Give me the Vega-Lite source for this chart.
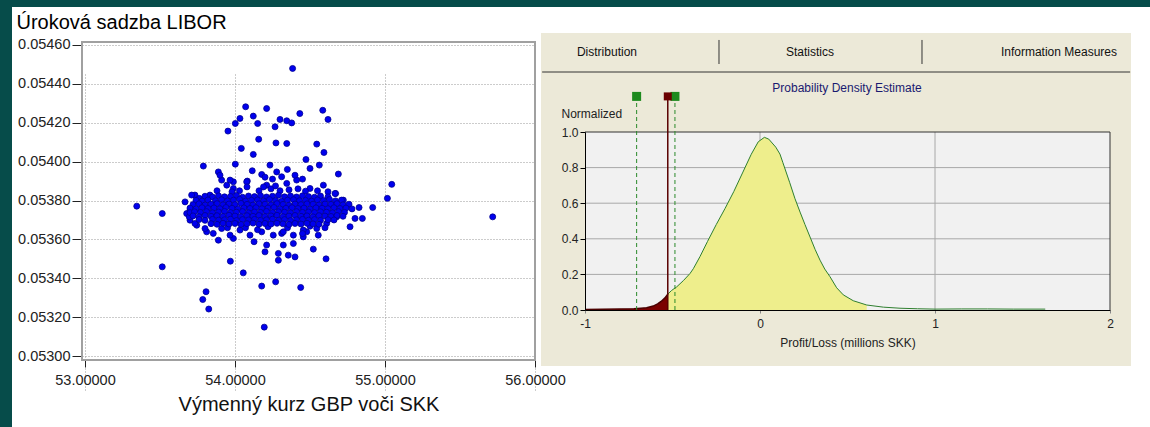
{
"$schema": "https://vega.github.io/schema/vega-lite/v6.json",
"width": 1138, "height": 420,
"padding": {"left": 12, "top": 7, "right": 0, "bottom": 0},
"autosize": {"type": "none"},
"background": "#064c4a",
"config": {"view": {"fill": "white", "stroke": null}, "font": "Liberation Sans"},
"datasets": {
"scatter": [
{"kurz":53.345,"libor":0.053771},{"kurz":53.515,"libor":0.053733},{"kurz":53.515,"libor":0.053459},{"kurz":53.785,"libor":0.053291},{"kurz":53.807,"libor":0.053331},{"kurz":53.825,"libor":0.053242},{"kurz":53.789,"libor":0.053977},{"kurz":53.667,"libor":0.053793},{"kurz":53.969,"libor":0.053488},{"kurz":54.055,"libor":0.053428},{"kurz":54.178,"libor":0.05336},{"kurz":54.271,"libor":0.053382},{"kurz":54.195,"libor":0.053149},{"kurz":53.953,"libor":0.054157},{"kurz":54.002,"libor":0.054196},{"kurz":54.033,"libor":0.054222},{"kurz":54.071,"libor":0.054282},{"kurz":54.122,"libor":0.054234},{"kurz":54.151,"libor":0.054196},{"kurz":54.211,"libor":0.054273},{"kurz":54.158,"libor":0.054115},{"kurz":54.042,"libor":0.054068},{"kurz":54.122,"libor":0.054037},{"kurz":54.273,"libor":0.054096},{"kurz":54.345,"libor":0.054093},{"kurz":54.267,"libor":0.054179},{"kurz":54.3,"libor":0.054217},{"kurz":54.345,"libor":0.05421},{"kurz":54.378,"libor":0.054199},{"kurz":54.432,"libor":0.054247},{"kurz":54.002,"libor":0.053987},{"kurz":54.082,"libor":0.0539},{"kurz":54.115,"libor":0.053953},{"kurz":53.889,"libor":0.053947},{"kurz":53.911,"libor":0.053905},{"kurz":53.945,"libor":0.053879},{"kurz":53.989,"libor":0.053896},{"kurz":53.989,"libor":0.053862},{"kurz":53.889,"libor":0.053596},{"kurz":53.989,"libor":0.053605},{"kurz":54.127,"libor":0.053588},{"kurz":54.2,"libor":0.053536},{"kurz":54.289,"libor":0.053528},{"kurz":54.289,"libor":0.053493},{"kurz":54.322,"libor":0.053571},{"kurz":54.355,"libor":0.053519},{"kurz":54.389,"libor":0.053579},{"kurz":54.4,"libor":0.05351},{"kurz":53.855,"libor":0.053631},{"kurz":53.811,"libor":0.053639},{"kurz":53.745,"libor":0.053673},{"kurz":53.7,"libor":0.053699},{"kurz":53.678,"libor":0.053733},{"kurz":53.733,"libor":0.053828},{"kurz":53.762,"libor":0.053811},{"kurz":54.384,"libor":0.054479},{"kurz":54.585,"libor":0.054264},{"kurz":54.62,"libor":0.054217},{"kurz":54.545,"libor":0.05409},{"kurz":54.593,"libor":0.054047},{"kurz":54.473,"libor":0.054011},{"kurz":54.562,"libor":0.053982},{"kurz":54.5,"libor":0.053965},{"kurz":54.689,"libor":0.053936},{"kurz":54.178,"libor":0.053934},{"kurz":54.233,"libor":0.053982},{"kurz":54.349,"libor":0.05396},{"kurz":55.045,"libor":0.053883},{"kurz":55.016,"libor":0.053811},{"kurz":54.918,"libor":0.053764},{"kurz":54.827,"libor":0.053764},{"kurz":54.8,"libor":0.053708},{"kurz":54.849,"libor":0.053708},{"kurz":54.767,"libor":0.053665},{"kurz":54.722,"libor":0.053802},{"kurz":54.671,"libor":0.053836},{"kurz":55.718,"libor":0.053716},{"kurz":54.438,"libor":0.053353},{"kurz":54.607,"libor":0.0535},{"kurz":54.522,"libor":0.05355},{"kurz":54.555,"libor":0.053622},{"kurz":54.455,"libor":0.053613},{"kurz":54.478,"libor":0.053639},{"kurz":54.311,"libor":0.053631},{"kurz":54.211,"libor":0.053571},
{"kurz":53.9,"libor":0.05393},{"kurz":53.967,"libor":0.053905},{"kurz":54.078,"libor":0.053896},{"kurz":54.211,"libor":0.053879},{"kurz":54.278,"libor":0.053947},{"kurz":54.311,"libor":0.053922},{"kurz":54.345,"libor":0.053888},{"kurz":54.411,"libor":0.053905},{"kurz":54.5,"libor":0.053862},{"kurz":54.589,"libor":0.053879},{"kurz":54.667,"libor":0.053836},{"kurz":53.711,"libor":0.053828},{"kurz":53.833,"libor":0.053828},{"kurz":53.7,"libor":0.05375},{"kurz":53.695,"libor":0.053716},{"kurz":53.733,"libor":0.053682},{"kurz":53.8,"libor":0.053656},{"kurz":53.911,"libor":0.053656},{"kurz":53.967,"libor":0.053622},{"kurz":54.033,"libor":0.053648},{"kurz":54.1,"libor":0.053622},{"kurz":54.178,"libor":0.053639},{"kurz":54.255,"libor":0.053622},{"kurz":54.322,"libor":0.053639},{"kurz":54.389,"libor":0.053622},{"kurz":54.455,"libor":0.053648},{"kurz":54.545,"libor":0.053656},{"kurz":54.611,"libor":0.053682},{"kurz":54.678,"libor":0.053716},
{"kurz":54.16,"libor":0.05385},{"kurz":54.19,"libor":0.05387},{"kurz":54.24,"libor":0.05386},{"kurz":54.27,"libor":0.053875},{"kurz":54.3,"libor":0.05385},{"kurz":54.36,"libor":0.053855},{"kurz":54.42,"libor":0.05386},{"kurz":54.47,"libor":0.053848},{"kurz":54.55,"libor":0.05385},{"kurz":54.62,"libor":0.053845},{"kurz":54.03,"libor":0.05385},{"kurz":53.98,"libor":0.053845},{"kurz":53.88,"libor":0.05385},{"kurz":54.08,"libor":0.05387},{"kurz":54.25,"libor":0.05391},{"kurz":54.2,"libor":0.05392},{"kurz":54.4,"libor":0.05393},{"kurz":54.45,"libor":0.05391},{"kurz":53.95,"libor":0.05366},{"kurz":54.07,"libor":0.05366},{"kurz":54.22,"libor":0.053665},{"kurz":54.35,"libor":0.05366},{"kurz":54.5,"libor":0.053668},{"kurz":54.6,"libor":0.05366},{"kurz":54.15,"libor":0.05365},{"kurz":54.45,"libor":0.05363},
{"kurz":53.8,"libor":0.053822},{"kurz":53.85,"libor":0.053818},{"kurz":53.89,"libor":0.053824},{"kurz":53.93,"libor":0.053819},{"kurz":53.97,"libor":0.053821},{"kurz":54.01,"libor":0.053826},{"kurz":54.05,"libor":0.053817},{"kurz":54.09,"libor":0.053823},{"kurz":54.13,"libor":0.05382},{"kurz":54.17,"libor":0.053825},{"kurz":54.21,"libor":0.053818},{"kurz":54.25,"libor":0.053822},{"kurz":54.29,"libor":0.053827},{"kurz":54.33,"libor":0.053819},{"kurz":54.37,"libor":0.053823},{"kurz":54.41,"libor":0.053818},{"kurz":54.45,"libor":0.053824},{"kurz":54.49,"libor":0.05382},{"kurz":54.53,"libor":0.053817},{"kurz":54.57,"libor":0.053823},{"kurz":54.62,"libor":0.053819},
{"kurz":53.74,"libor":0.053801},{"kurz":53.78,"libor":0.053797},{"kurz":53.82,"libor":0.053803},{"kurz":53.87,"libor":0.053799},{"kurz":53.91,"libor":0.053804},{"kurz":53.95,"libor":0.053798},{"kurz":53.99,"libor":0.053802},{"kurz":54.03,"libor":0.053806},{"kurz":54.07,"libor":0.053797},{"kurz":54.11,"libor":0.053801},{"kurz":54.15,"libor":0.053803},{"kurz":54.19,"libor":0.053798},{"kurz":54.23,"libor":0.053805},{"kurz":54.27,"libor":0.0538},{"kurz":54.31,"libor":0.053796},{"kurz":54.35,"libor":0.053802},{"kurz":54.39,"libor":0.053804},{"kurz":54.43,"libor":0.053799},{"kurz":54.47,"libor":0.053801},{"kurz":54.51,"libor":0.053797},{"kurz":54.55,"libor":0.053803},{"kurz":54.59,"libor":0.0538},{"kurz":54.63,"libor":0.053805},{"kurz":54.67,"libor":0.053798},{"kurz":54.71,"libor":0.053802},
{"kurz":53.72,"libor":0.053779},{"kurz":53.76,"libor":0.053783},{"kurz":53.8,"libor":0.053777},{"kurz":53.84,"libor":0.053781},{"kurz":53.88,"libor":0.053784},{"kurz":53.92,"libor":0.053778},{"kurz":53.96,"libor":0.053782},{"kurz":54.0,"libor":0.053779},{"kurz":54.04,"libor":0.053785},{"kurz":54.08,"libor":0.05378},{"kurz":54.12,"libor":0.053777},{"kurz":54.16,"libor":0.053783},{"kurz":54.2,"libor":0.053781},{"kurz":54.24,"libor":0.053778},{"kurz":54.28,"libor":0.053784},{"kurz":54.32,"libor":0.05378},{"kurz":54.36,"libor":0.053776},{"kurz":54.4,"libor":0.053782},{"kurz":54.44,"libor":0.053779},{"kurz":54.48,"libor":0.053783},{"kurz":54.52,"libor":0.053781},{"kurz":54.56,"libor":0.053777},{"kurz":54.6,"libor":0.053782},{"kurz":54.64,"libor":0.05378},{"kurz":54.68,"libor":0.053784},{"kurz":54.72,"libor":0.053778},{"kurz":54.76,"libor":0.053781},
{"kurz":53.7,"libor":0.053761},{"kurz":53.74,"libor":0.053757},{"kurz":53.78,"libor":0.053763},{"kurz":53.82,"libor":0.053759},{"kurz":53.86,"libor":0.053762},{"kurz":53.9,"libor":0.053758},{"kurz":53.94,"libor":0.053764},{"kurz":53.98,"libor":0.05376},{"kurz":54.02,"libor":0.053757},{"kurz":54.06,"libor":0.053762},{"kurz":54.1,"libor":0.053759},{"kurz":54.14,"libor":0.053763},{"kurz":54.18,"libor":0.053758},{"kurz":54.22,"libor":0.053761},{"kurz":54.26,"libor":0.053764},{"kurz":54.3,"libor":0.053757},{"kurz":54.34,"libor":0.05376},{"kurz":54.38,"libor":0.053763},{"kurz":54.42,"libor":0.053759},{"kurz":54.46,"libor":0.053761},{"kurz":54.5,"libor":0.053756},{"kurz":54.54,"libor":0.053762},{"kurz":54.58,"libor":0.05376},{"kurz":54.62,"libor":0.053758},{"kurz":54.66,"libor":0.053763},{"kurz":54.7,"libor":0.053759},{"kurz":54.74,"libor":0.053761},{"kurz":54.78,"libor":0.053757},
{"kurz":53.7,"libor":0.053738},{"kurz":53.73,"libor":0.053742},{"kurz":53.77,"libor":0.053739},{"kurz":53.81,"libor":0.053743},{"kurz":53.85,"libor":0.053737},{"kurz":53.89,"libor":0.053741},{"kurz":53.93,"libor":0.053744},{"kurz":53.97,"libor":0.053738},{"kurz":54.01,"libor":0.05374},{"kurz":54.05,"libor":0.053743},{"kurz":54.09,"libor":0.053737},{"kurz":54.13,"libor":0.053741},{"kurz":54.17,"libor":0.053739},{"kurz":54.21,"libor":0.053744},{"kurz":54.25,"libor":0.053738},{"kurz":54.29,"libor":0.053742},{"kurz":54.33,"libor":0.05374},{"kurz":54.37,"libor":0.053737},{"kurz":54.41,"libor":0.053743},{"kurz":54.45,"libor":0.053739},{"kurz":54.49,"libor":0.053741},{"kurz":54.53,"libor":0.053738},{"kurz":54.57,"libor":0.053742},{"kurz":54.61,"libor":0.05374},{"kurz":54.65,"libor":0.053737},{"kurz":54.69,"libor":0.053743},{"kurz":54.73,"libor":0.053739},
{"kurz":53.72,"libor":0.053721},{"kurz":53.76,"libor":0.053717},{"kurz":53.8,"libor":0.053723},{"kurz":53.84,"libor":0.053719},{"kurz":53.88,"libor":0.053722},{"kurz":53.92,"libor":0.053718},{"kurz":53.96,"libor":0.053724},{"kurz":54.0,"libor":0.05372},{"kurz":54.04,"libor":0.053717},{"kurz":54.08,"libor":0.053722},{"kurz":54.12,"libor":0.053719},{"kurz":54.16,"libor":0.053723},{"kurz":54.2,"libor":0.053718},{"kurz":54.24,"libor":0.053721},{"kurz":54.28,"libor":0.053724},{"kurz":54.32,"libor":0.053717},{"kurz":54.36,"libor":0.05372},{"kurz":54.4,"libor":0.053723},{"kurz":54.44,"libor":0.053719},{"kurz":54.48,"libor":0.053721},{"kurz":54.52,"libor":0.053716},{"kurz":54.56,"libor":0.053722},{"kurz":54.6,"libor":0.05372},{"kurz":54.64,"libor":0.053718},{"kurz":54.68,"libor":0.053723},{"kurz":54.72,"libor":0.053719},
{"kurz":53.76,"libor":0.053702},{"kurz":53.8,"libor":0.053698},{"kurz":53.85,"libor":0.053703},{"kurz":53.89,"libor":0.053699},{"kurz":53.93,"libor":0.053701},{"kurz":53.97,"libor":0.053704},{"kurz":54.01,"libor":0.053697},{"kurz":54.05,"libor":0.053702},{"kurz":54.09,"libor":0.0537},{"kurz":54.13,"libor":0.053703},{"kurz":54.17,"libor":0.053698},{"kurz":54.21,"libor":0.053701},{"kurz":54.25,"libor":0.053704},{"kurz":54.29,"libor":0.053699},{"kurz":54.33,"libor":0.053702},{"kurz":54.37,"libor":0.053697},{"kurz":54.41,"libor":0.053701},{"kurz":54.45,"libor":0.053703},{"kurz":54.49,"libor":0.053699},{"kurz":54.53,"libor":0.053702},{"kurz":54.57,"libor":0.053698},{"kurz":54.62,"libor":0.053701},{"kurz":54.66,"libor":0.0537},
{"kurz":53.84,"libor":0.053681},{"kurz":53.88,"libor":0.053678},{"kurz":53.92,"libor":0.053683},{"kurz":53.96,"libor":0.053679},{"kurz":54.0,"libor":0.053682},{"kurz":54.04,"libor":0.053677},{"kurz":54.08,"libor":0.053681},{"kurz":54.12,"libor":0.053684},{"kurz":54.16,"libor":0.053678},{"kurz":54.2,"libor":0.053682},{"kurz":54.24,"libor":0.053679},{"kurz":54.28,"libor":0.053683},{"kurz":54.32,"libor":0.05368},{"kurz":54.36,"libor":0.053677},{"kurz":54.4,"libor":0.053682},{"kurz":54.44,"libor":0.053679},{"kurz":54.48,"libor":0.053683},{"kurz":54.52,"libor":0.05368},{"kurz":54.56,"libor":0.053678}
],
"density": [
{"pl":-1.0,"norm":0.003},{"pl":-0.9,"norm":0.004},{"pl":-0.8,"norm":0.005},{"pl":-0.72,"norm":0.007},{"pl":-0.68,"norm":0.01},{"pl":-0.648,"norm":0.013},{"pl":-0.61,"norm":0.022},{"pl":-0.585,"norm":0.034},{"pl":-0.565,"norm":0.048},{"pl":-0.543,"norm":0.068},{"pl":-0.526,"norm":0.09},{"pl":-0.505,"norm":0.11},{"pl":-0.476,"norm":0.13},{"pl":-0.438,"norm":0.165},{"pl":-0.4,"norm":0.205},{"pl":-0.381,"norm":0.232},{"pl":-0.343,"norm":0.3},{"pl":-0.3,"norm":0.385},{"pl":-0.25,"norm":0.48},{"pl":-0.2,"norm":0.57},{"pl":-0.15,"norm":0.665},{"pl":-0.1,"norm":0.77},{"pl":-0.05,"norm":0.875},{"pl":-0.01,"norm":0.945},{"pl":0.025,"norm":0.97},{"pl":0.05,"norm":0.96},{"pl":0.09,"norm":0.915},{"pl":0.114,"norm":0.876},{"pl":0.13,"norm":0.83},{"pl":0.17,"norm":0.715},{"pl":0.2,"norm":0.625},{"pl":0.229,"norm":0.55},{"pl":0.257,"norm":0.48},{"pl":0.286,"norm":0.41},{"pl":0.315,"norm":0.34},{"pl":0.343,"norm":0.28},{"pl":0.37,"norm":0.23},{"pl":0.4,"norm":0.187},{"pl":0.438,"norm":0.125},{"pl":0.476,"norm":0.085},{"pl":0.533,"norm":0.052},{"pl":0.61,"norm":0.028},{"pl":0.705,"norm":0.016},{"pl":0.8,"norm":0.01},{"pl":0.9,"norm":0.007},{"pl":1.0,"norm":0.005},{"pl":1.15,"norm":0.006},{"pl":1.3,"norm":0.006},{"pl":1.45,"norm":0.005},{"pl":1.63,"norm":0.005}
],
"certainty": [{"bound": -0.705}, {"bound": -0.486}],
"var": [{"bound": -0.527}],
"gridY": [{"level": 0.2}, {"level": 0.4}, {"level": 0.6}, {"level": 0.8}],
"gridX": [{"tick": 0}, {"tick": 1}]
},
"layer": [
{
"layer": [
{"data": {"values": [{}]}, "mark": {"type": "rect", "filled": false, "stroke": "#a0a0a0", "strokeWidth": 2},
 "encoding": {
  "x": {"datum": 52.98, "type": "quantitative", "scale": {"domain": [52.98, 56.0], "range": [70, 523], "nice": false, "zero": false}},
  "x2": {"datum": 56.0},
  "y": {"datum": 0.05298, "type": "quantitative", "scale": {"domain": [0.05298, 0.054615], "range": [353, 35], "nice": false, "zero": false}},
  "y2": {"datum": 0.054615}}},
{"data": {"name": "scatter"}, "mark": {"type": "circle", "size": 36, "opacity": 1, "fill": "#0000ee", "stroke": "#000090", "strokeWidth": 0.8},
 "encoding": {
  "x": {"field": "kurz", "type": "quantitative", "scale": {"domain": [52.98, 56.0], "range": [70, 523], "nice": false, "zero": false},
   "axis": {"orient": "bottom", "offset": -67, "values": [53, 54, 55, 56], "format": ".5f", "grid": true, "gridColor": "#999999", "gridDash": [1, 2], "domain": false, "tickColor": "#222222", "tickSize": 7, "labelFontSize": 14.5, "labelColor": "#222222", "labelPadding": 6, "labelFlush": false, "labelOverlap": false, "title": "Výmenný kurz GBP voči SKK", "titleFontSize": 20, "titleFontWeight": "normal", "titleColor": "#111111", "titlePadding": 8}},
  "y": {"field": "libor", "type": "quantitative", "scale": {"domain": [0.05298, 0.054615], "range": [353, 35], "nice": false, "zero": false},
   "axis": {"orient": "left", "offset": -70, "values": [0.053, 0.0532, 0.0534, 0.0536, 0.0538, 0.054, 0.0542, 0.0544, 0.0546], "format": ".5f", "grid": true, "gridColor": "#999999", "gridDash": [1, 2], "domain": false, "tickColor": "#222222", "tickSize": 10, "labelFontSize": 14.5, "labelColor": "#222222", "labelPadding": 2, "labelOverlap": false, "title": "Úroková sadzba LIBOR", "titleAngle": 0, "titleAlign": "left", "titleBaseline": "alphabetic", "titleX": -66, "titleY": 21, "titleFontSize": 20, "titleFontWeight": "normal", "titleColor": "#000000"}}}}
]
},
{
"layer": [
{"data": {"values": [{}]}, "mark": {"type": "rect", "color": "#ece9d8"},
 "encoding": {
  "x": {"datum": -1.2514, "type": "quantitative", "scale": {"domain": [-1, 2], "range": [573, 1098], "nice": false, "zero": false}},
  "x2": {"datum": 2.12},
  "y": {"datum": -0.3146, "type": "quantitative", "scale": {"domain": [0, 1], "range": [303, 125], "nice": false, "zero": false}},
  "y2": {"datum": 1.5562}}},
{"data": {"values": [{}]}, "mark": {"type": "rect", "color": "#f1f1f1"},
 "encoding": {
  "x": {"datum": -1, "type": "quantitative", "scale": {"domain": [-1, 2], "range": [573, 1098], "nice": false, "zero": false},
   "axis": {"orient": "bottom", "offset": -117, "values": [-1, 0, 1, 2], "labelExpr": "datum.value", "grid": false, "domain": true, "domainColor": "#000000", "ticks": true, "tickSize": 3, "tickColor": "#888888", "labelFontSize": 12, "labelColor": "#222222", "labelPadding": 5, "labelFlush": false, "labelOverlap": false, "title": "Profit/Loss (millions SKK)", "titleFontSize": 12, "titleFontWeight": "normal", "titleColor": "#222222", "titlePadding": 8, "zindex": 1}},
  "x2": {"datum": 2},
  "y": {"datum": 0, "type": "quantitative", "scale": {"domain": [0, 1], "range": [303, 125], "nice": false, "zero": false},
   "axis": {"orient": "left", "offset": -573, "values": [0, 0.2, 0.4, 0.6, 0.8, 1], "format": ".1f", "grid": false, "domain": true, "domainColor": "#000000", "ticks": true, "tickColor": "#000000", "tickSize": 5, "labelPadding": 2, "labelFontSize": 12, "labelColor": "#222222", "labelOverlap": false, "title": "Normalized", "titleAngle": 0, "titleAlign": "left", "titleBaseline": "middle", "titleX": -24, "titleY": 106, "titleFontSize": 12, "titleFontWeight": "normal", "titleColor": "#222222", "zindex": 1}},
  "y2": {"datum": 1}}},
{"data": {"name": "gridY"}, "mark": {"type": "rule", "color": "#a8a8a8"},
 "encoding": {
  "y": {"field": "level", "type": "quantitative", "scale": {"domain": [0, 1], "range": [303, 125], "nice": false, "zero": false}},
  "x": {"datum": -1, "type": "quantitative", "scale": {"domain": [-1, 2], "range": [573, 1098], "nice": false, "zero": false}},
  "x2": {"datum": 2}}},
{"data": {"name": "gridX"}, "mark": {"type": "rule", "color": "#a8a8a8"},
 "encoding": {
  "x": {"field": "tick", "type": "quantitative", "scale": {"domain": [-1, 2], "range": [573, 1098], "nice": false, "zero": false}},
  "y": {"datum": 0, "type": "quantitative", "scale": {"domain": [0, 1], "range": [303, 125], "nice": false, "zero": false}},
  "y2": {"datum": 1}}},
{"data": {"values": [{}]}, "mark": {"type": "rule", "color": "#333333"},
 "encoding": {
  "y": {"datum": 1, "type": "quantitative", "scale": {"domain": [0, 1], "range": [303, 125], "nice": false, "zero": false}},
  "x": {"datum": -1, "type": "quantitative", "scale": {"domain": [-1, 2], "range": [573, 1098], "nice": false, "zero": false}},
  "x2": {"datum": 2}}},
{"data": {"values": [{}]}, "mark": {"type": "rule", "color": "#333333"},
 "encoding": {
  "x": {"datum": 2, "type": "quantitative", "scale": {"domain": [-1, 2], "range": [573, 1098], "nice": false, "zero": false}},
  "y": {"datum": 0, "type": "quantitative", "scale": {"domain": [0, 1], "range": [303, 125], "nice": false, "zero": false}},
  "y2": {"datum": 1}}},
{"data": {"name": "density"}, "transform": [{"filter": "datum.pl <= -0.526"}], "mark": {"type": "area", "color": "#7b0000"},
 "encoding": {
  "x": {"field": "pl", "type": "quantitative", "scale": {"domain": [-1, 2], "range": [573, 1098], "nice": false, "zero": false}},
  "y": {"field": "norm", "type": "quantitative", "scale": {"domain": [0, 1], "range": [303, 125], "nice": false, "zero": false}}}},
{"data": {"name": "density"}, "transform": [{"filter": "datum.pl >= -0.526 && datum.pl <= 0.61"}], "mark": {"type": "area", "color": "#eeee8c"},
 "encoding": {
  "x": {"field": "pl", "type": "quantitative", "scale": {"domain": [-1, 2], "range": [573, 1098], "nice": false, "zero": false}},
  "y": {"field": "norm", "type": "quantitative", "scale": {"domain": [0, 1], "range": [303, 125], "nice": false, "zero": false}}}},
{"data": {"name": "density"}, "transform": [{"filter": "datum.pl >= -0.526"}], "mark": {"type": "line", "color": "#2f7f2f", "strokeWidth": 1},
 "encoding": {
  "x": {"field": "pl", "type": "quantitative", "scale": {"domain": [-1, 2], "range": [573, 1098], "nice": false, "zero": false}},
  "y": {"field": "norm", "type": "quantitative", "scale": {"domain": [0, 1], "range": [303, 125], "nice": false, "zero": false}}}},
{"data": {"name": "density"}, "transform": [{"filter": "datum.pl <= -0.526"}], "mark": {"type": "line", "color": "#4a0000", "strokeWidth": 1.5},
 "encoding": {
  "x": {"field": "pl", "type": "quantitative", "scale": {"domain": [-1, 2], "range": [573, 1098], "nice": false, "zero": false}},
  "y": {"field": "norm", "type": "quantitative", "scale": {"domain": [0, 1], "range": [303, 125], "nice": false, "zero": false}}}},
{"data": {"name": "certainty"}, "mark": {"type": "rule", "color": "#2a8a2a", "strokeDash": [4, 3]},
 "encoding": {
  "x": {"field": "bound", "type": "quantitative", "scale": {"domain": [-1, 2], "range": [573, 1098], "nice": false, "zero": false}},
  "y": {"datum": 0, "type": "quantitative", "scale": {"domain": [0, 1], "range": [303, 125], "nice": false, "zero": false}},
  "y2": {"datum": 1.18}}},
{"data": {"name": "var"}, "mark": {"type": "rule", "color": "#5a0000", "strokeWidth": 1.5},
 "encoding": {
  "x": {"field": "bound", "type": "quantitative", "scale": {"domain": [-1, 2], "range": [573, 1098], "nice": false, "zero": false}},
  "y": {"datum": 0, "type": "quantitative", "scale": {"domain": [0, 1], "range": [303, 125], "nice": false, "zero": false}},
  "y2": {"datum": 1.2}}},
{"data": {"name": "certainty"}, "mark": {"type": "point", "shape": "square", "filled": true, "size": 81, "opacity": 1, "color": "#1d8a1d"},
 "encoding": {
  "x": {"field": "bound", "type": "quantitative", "scale": {"domain": [-1, 2], "range": [573, 1098], "nice": false, "zero": false}},
  "y": {"datum": 1.2, "type": "quantitative", "scale": {"domain": [0, 1], "range": [303, 125], "nice": false, "zero": false}}}},
{"data": {"name": "var"}, "mark": {"type": "point", "shape": "square", "filled": true, "size": 64, "opacity": 1, "color": "#6b0000"},
 "encoding": {
  "x": {"field": "bound", "type": "quantitative", "scale": {"domain": [-1, 2], "range": [573, 1098], "nice": false, "zero": false}},
  "y": {"datum": 1.2, "type": "quantitative", "scale": {"domain": [0, 1], "range": [303, 125], "nice": false, "zero": false}}}},
{"data": {"values": [{}]}, "mark": {"type": "rule", "color": "#333333"},
 "encoding": {
  "y": {"datum": 1.337, "type": "quantitative", "scale": {"domain": [0, 1], "range": [303, 125], "nice": false, "zero": false}},
  "x": {"datum": -1.245, "type": "quantitative", "scale": {"domain": [-1, 2], "range": [573, 1098], "nice": false, "zero": false}},
  "x2": {"datum": 2.115}}},
{"data": {"values": [{}]}, "mark": {"type": "rule", "color": "#333333"},
 "encoding": {
  "x": {"datum": -0.2343, "type": "quantitative", "scale": {"domain": [-1, 2], "range": [573, 1098], "nice": false, "zero": false}},
  "y": {"datum": 1.382, "type": "quantitative", "scale": {"domain": [0, 1], "range": [303, 125], "nice": false, "zero": false}},
  "y2": {"datum": 1.517}}},
{"data": {"values": [{}]}, "mark": {"type": "rule", "color": "#333333"},
 "encoding": {
  "x": {"datum": 0.9257, "type": "quantitative", "scale": {"domain": [-1, 2], "range": [573, 1098], "nice": false, "zero": false}},
  "y": {"datum": 1.382, "type": "quantitative", "scale": {"domain": [0, 1], "range": [303, 125], "nice": false, "zero": false}},
  "y2": {"datum": 1.517}}},
{"data": {"values": [{}]}, "mark": {"type": "text", "fontSize": 12, "color": "#111111", "align": "left", "baseline": "middle"},
 "encoding": {
  "x": {"datum": -1.046, "type": "quantitative", "scale": {"domain": [-1, 2], "range": [573, 1098], "nice": false, "zero": false}},
  "y": {"datum": 1.449, "type": "quantitative", "scale": {"domain": [0, 1], "range": [303, 125], "nice": false, "zero": false}},
  "text": {"value": "Distribution"}}},
{"data": {"values": [{}]}, "mark": {"type": "text", "fontSize": 12, "color": "#111111", "align": "center", "baseline": "middle"},
 "encoding": {
  "x": {"datum": 0.2857, "type": "quantitative", "scale": {"domain": [-1, 2], "range": [573, 1098], "nice": false, "zero": false}},
  "y": {"datum": 1.449, "type": "quantitative", "scale": {"domain": [0, 1], "range": [303, 125], "nice": false, "zero": false}},
  "text": {"value": "Statistics"}}},
{"data": {"values": [{}]}, "mark": {"type": "text", "fontSize": 12, "color": "#111111", "align": "right", "baseline": "middle"},
 "encoding": {
  "x": {"datum": 2.04, "type": "quantitative", "scale": {"domain": [-1, 2], "range": [573, 1098], "nice": false, "zero": false}},
  "y": {"datum": 1.449, "type": "quantitative", "scale": {"domain": [0, 1], "range": [303, 125], "nice": false, "zero": false}},
  "text": {"value": "Information Measures"}}},
{"data": {"values": [{}]}, "mark": {"type": "text", "fontSize": 12, "color": "#1a1a70", "align": "center", "baseline": "middle"},
 "encoding": {
  "x": {"datum": 0.497, "type": "quantitative", "scale": {"domain": [-1, 2], "range": [573, 1098], "nice": false, "zero": false}},
  "y": {"datum": 1.247, "type": "quantitative", "scale": {"domain": [0, 1], "range": [303, 125], "nice": false, "zero": false}},
  "text": {"value": "Probability Density Estimate"}}}
]
}
],
"resolve": {"scale": {"x": "independent", "y": "independent"}, "axis": {"x": "independent", "y": "independent"}}
}
